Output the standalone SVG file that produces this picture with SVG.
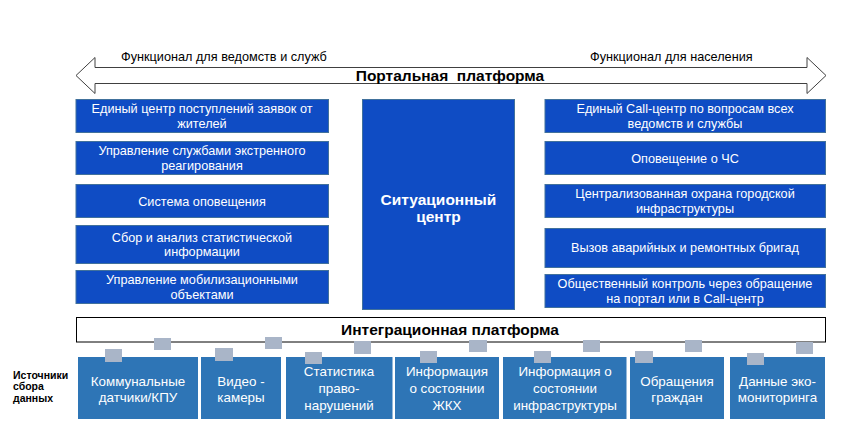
<svg xmlns="http://www.w3.org/2000/svg" width="856" height="438" viewBox="0 0 856 438">
<style>
text{font-family:"Liberation Sans",Arial,sans-serif}
.bx{fill:#0F4CC4;stroke:#41719C;stroke-width:1}
.bt{fill:#fff;font-size:12.7px;text-anchor:middle}
.src{fill:#2E75B6}
.st{fill:#fff;font-size:13.4px;text-anchor:middle}
.pin{fill:#A9B5C8}
.hd{fill:#000;font-size:15.5px;font-weight:bold;text-anchor:middle;white-space:pre}
.cap{fill:#000;font-size:12.7px}
</style>
<rect width="856" height="438" fill="#fff"/>
<g id="portal">
<path d="M76,75.5 L95,57.5 L95,67.5 L807,67.5 L807,57.5 L826,75.5 L807,93.5 L807,83.5 L95,83.5 L95,93.5 Z" fill="#fff" stroke="#404040" stroke-width="1"/>
<text class="hd" x="450" y="81" xml:space="preserve">Портальная  платформа</text>
<text class="cap" x="121" y="61">Функционал для ведомств и служб</text>
<text class="cap" x="590" y="61">Функционал для населения</text>
</g>
<g id="left-1"><rect class="bx" x="76" y="99.5" width="252.5" height="33"/><text class="bt" x="202" y="113">Единый центр поступлений заявок от</text><text class="bt" x="202" y="127.5">жителей</text></g>
<g id="left-2"><rect class="bx" x="76" y="141.5" width="252.5" height="33"/><text class="bt" x="202" y="155">Управление службами экстренного</text><text class="bt" x="202" y="169.5">реагирования</text></g>
<g id="left-3"><rect class="bx" x="76" y="184.5" width="252.5" height="33"/><text class="bt" x="202" y="205.5">Система оповещения</text></g>
<g id="left-4"><rect class="bx" x="76" y="225.5" width="252.5" height="38"/><text class="bt" x="202" y="241.5">Сбор и анализ статистической</text><text class="bt" x="202" y="256">информации</text></g>
<g id="left-5"><rect class="bx" x="76" y="270.5" width="252.5" height="33"/><text class="bt" x="202" y="284">Управление мобилизационными</text><text class="bt" x="202" y="298.5">объектами</text></g>
<g id="situation-center"><rect class="bx" x="362.5" y="99.5" width="152" height="210"/><text x="438.5" y="205" fill="#fff" font-size="15.5" font-weight="bold" text-anchor="middle">Ситуационный</text><text x="438.5" y="222" fill="#fff" font-size="15.5" font-weight="bold" text-anchor="middle">центр</text></g>
<g id="right-1"><rect class="bx" x="545" y="99.5" width="280.5" height="33"/><text class="bt" x="685" y="113">Единый Call-центр по вопросам всех</text><text class="bt" x="685" y="127.5">ведомств и службы</text></g>
<g id="right-2"><rect class="bx" x="545" y="141.5" width="280.5" height="33"/><text class="bt" x="685" y="162.5">Оповещение о ЧС</text></g>
<g id="right-3"><rect class="bx" x="545" y="184.5" width="280.5" height="33"/><text class="bt" x="685" y="198">Централизованная охрана городской</text><text class="bt" x="685" y="212.5">инфраструктуры</text></g>
<g id="right-4"><rect class="bx" x="545" y="228.5" width="280.5" height="39"/><text class="bt" x="685" y="252">Вызов аварийных и ремонтных бригад</text></g>
<g id="right-5"><rect class="bx" x="545" y="274.5" width="280.5" height="33"/><text class="bt" x="685" y="288">Общественный контроль через обращение</text><text class="bt" x="685" y="302.5">на портал или в Call-центр</text></g>
<g id="integration"><rect x="76.5" y="317.5" width="749" height="24.5" fill="#fff" stroke="#000" stroke-width="1"/><text class="hd" x="450" y="335">Интеграционная платформа</text></g>
<g id="sources-label"><text x="13" y="378.5" font-size="10.5" font-weight="bold" fill="#000">Источники</text><text x="13" y="390" font-size="10.5" font-weight="bold" fill="#000">сбора</text><text x="13" y="401.5" font-size="10.5" font-weight="bold" fill="#000">данных</text></g>
<g id="src-1"><rect class="src" x="78" y="357" width="120" height="62"/><text class="st" x="138" y="385.5">Коммунальные</text><text class="st" x="138" y="402">датчики/КПУ</text></g>
<g id="src-2"><rect class="src" x="201" y="357" width="80" height="62"/><text class="st" x="241" y="385.5">Видео -</text><text class="st" x="241" y="402">камеры</text></g>
<g id="src-3"><rect class="src" x="286" y="357" width="106.5" height="62"/><text class="st" x="339" y="376">Статистика</text><text class="st" x="339" y="392.5">право-</text><text class="st" x="339" y="410">нарушений</text></g>
<g id="src-4"><rect class="src" x="395" y="357" width="104" height="62"/><text class="st" x="447" y="376">Информация</text><text class="st" x="447" y="392.5">о состоянии</text><text class="st" x="447" y="410">ЖКХ</text></g>
<g id="src-5"><rect class="src" x="503" y="357" width="123.5" height="62"/><text class="st" x="565" y="376">Информация о</text><text class="st" x="565" y="392.5">состоянии</text><text class="st" x="565" y="410">инфраструктуры</text></g>
<g id="src-6"><rect class="src" x="630" y="357" width="94" height="62"/><text class="st" x="677" y="385.5">Обращения</text><text class="st" x="677" y="402">граждан</text></g>
<g id="src-7"><rect class="src" x="730" y="357" width="95" height="62"/><text class="st" x="777.5" y="385.5">Данные эко-</text><text class="st" x="777.5" y="402">мониторинга</text></g>
<g id="connectors">
<rect class="pin" x="105" y="349" width="17" height="13"/><rect class="pin" x="154" y="338" width="17" height="12"/>
<rect class="pin" x="215" y="348" width="18" height="13"/><rect class="pin" x="265" y="337" width="17" height="12"/>
<rect class="pin" x="305" y="352" width="17" height="12"/><rect class="pin" x="354" y="341" width="17" height="13"/>
<rect class="pin" x="420" y="351" width="17" height="12"/><rect class="pin" x="469" y="340" width="18" height="12"/>
<rect class="pin" x="534" y="351" width="17" height="12"/><rect class="pin" x="583" y="340" width="17" height="12"/>
<rect class="pin" x="635" y="351" width="18" height="12"/><rect class="pin" x="685" y="340" width="17" height="12"/>
<rect class="pin" x="747" y="353" width="17" height="12"/><rect class="pin" x="796" y="342" width="17" height="12"/>
</g>
</svg>
